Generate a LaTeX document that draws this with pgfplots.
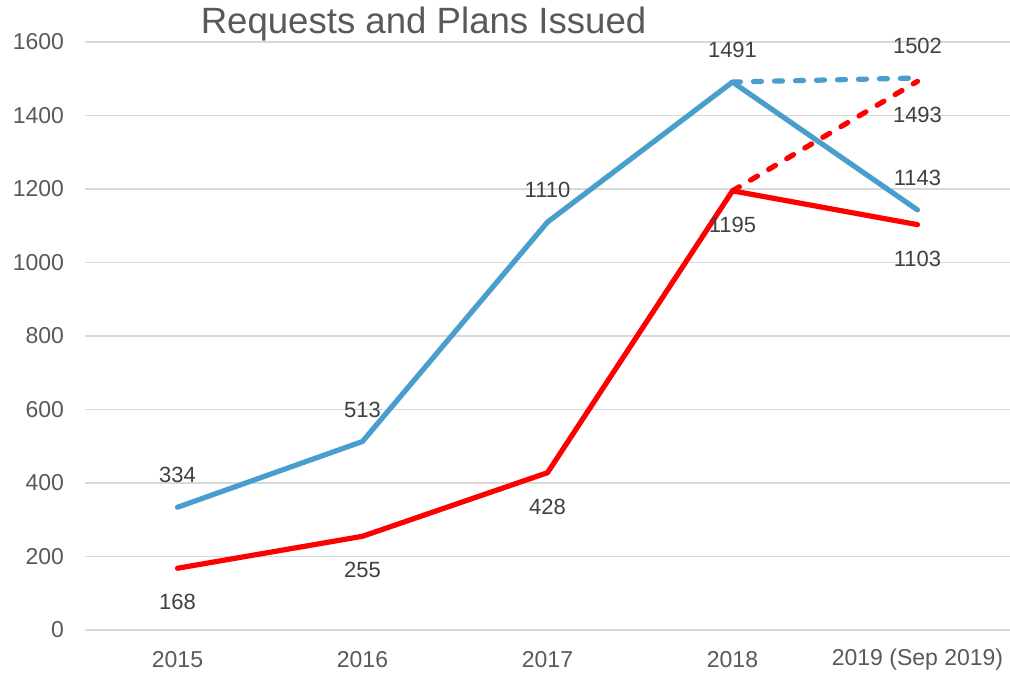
\documentclass[border=0pt]{standalone}
\usepackage{fontspec}
\setmainfont{Liberation Sans}
\usepackage{pgfplots}
\pgfplotsset{compat=1.18}
\definecolor{reqblue}{RGB}{74,158,205}
\definecolor{gridgray}{RGB}{217,217,217}
\definecolor{ticktext}{RGB}{89,89,89}
\definecolor{labeltext}{RGB}{64,64,64}

\begin{document}
\begin{tikzpicture}
\begin{axis}[
  name=main,
  scale only axis,
  width=462.5pt, height=294pt,
  xmin=-0.5, xmax=4.5,
  ymin=0, ymax=1600,
  axis line style={draw=none},
  ymajorgrids,
  grid style={gridgray, line width=0.8pt},
  ytick={0,200,...,1600},
  xtick={0,1,2,3,4},
  xticklabels={2015,2016,2017,2018,2019 (Sep 2019)},
  major tick length=0pt,
  tick label style={font=\fontsize{11.5}{13}\selectfont, text=ticktext},
  /pgf/number format/assume math mode=true,
  /pgf/number format/1000 sep={},
  yticklabel style={anchor=east, xshift=-7pt},
  xticklabel style={anchor=center, yshift=-15pt},
  clip=false,
  every node near coord/.append style={font=\fontsize{11}{13}\selectfont, text=labeltext, anchor=center},
]
% Requests (blue)
\addplot[reqblue, line width=2.6pt, line join=round, line cap=round,
  nodes near coords, nodes near coords style={yshift=16pt}]
  coordinates {(0,334) (1,513) (2,1110) (3,1491) (4,1143)};
\addplot[reqblue, line width=2.6pt, line cap=round, dash pattern=on 4pt off 6.5pt,
  point meta=explicit symbolic, nodes near coords, nodes near coords style={yshift=16pt}]
  coordinates {(3,1491) [] (4,1502) [1502]};
% Plans issued (red)
\addplot[red, line width=2.6pt, line join=round, line cap=round,
  nodes near coords, nodes near coords style={yshift=-17pt}]
  coordinates {(0,168) (1,255) (2,428) (3,1195) (4,1103)};
\addplot[red, line width=2.6pt, line cap=round, dash pattern=on 4pt off 6.5pt,
  point meta=explicit symbolic, nodes near coords, nodes near coords style={yshift=-17pt}]
  coordinates {(3,1195) [] (4,1493) [1493]};
\node[font=\fontsize{18.3}{21}\selectfont, text=ticktext] at (axis cs:1.33,1648) {Requests and Plans Issued};
\end{axis}
\pgfresetboundingbox
\path ([xshift=-42.5pt,yshift=21pt]main.north west) rectangle ([yshift=-24pt]main.south east);
\end{tikzpicture}
\end{document}
